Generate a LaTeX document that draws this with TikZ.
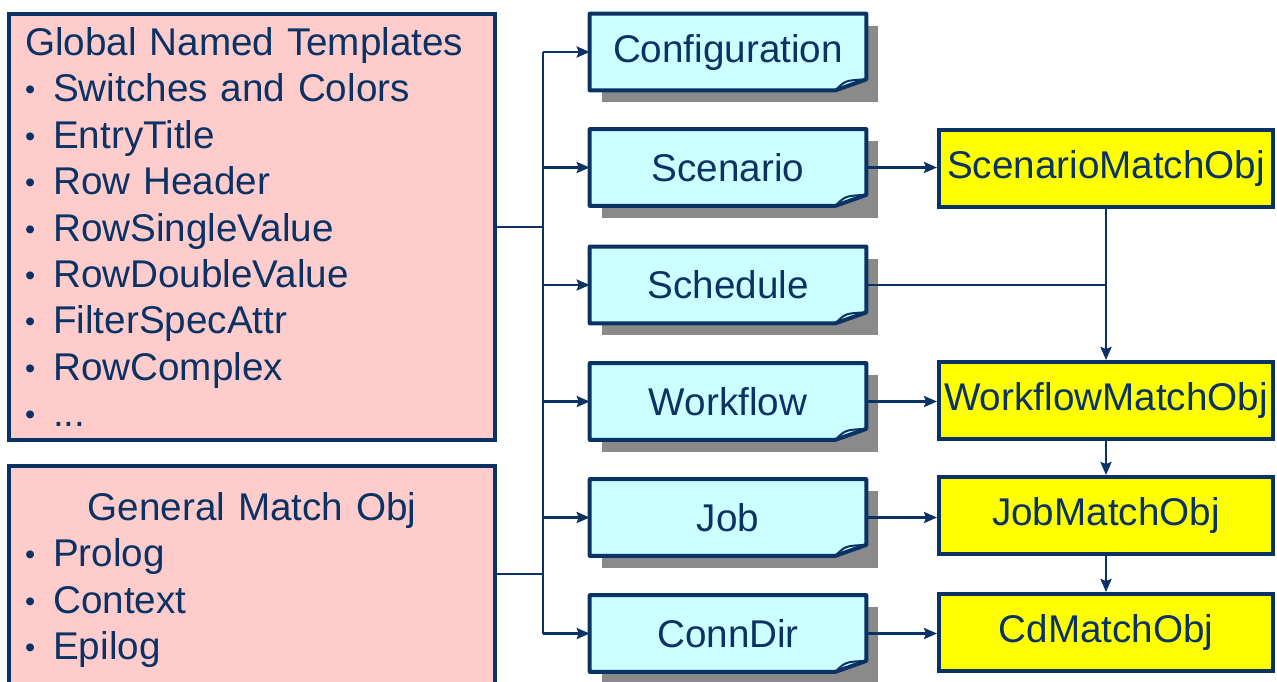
\documentclass[tikz,border=0pt]{standalone}
\usepackage{fontspec}
\setmainfont{Liberation Sans}
\usetikzlibrary{arrows.meta,backgrounds}
\definecolor{navy}{HTML}{0B3264}
\definecolor{pagecyan}{HTML}{CCFFFF}
\definecolor{notepink}{HTML}{FFCCCC}
\definecolor{objyellow}{HTML}{FFFF00}
\definecolor{shadowgray}{HTML}{8A8A8A}
\newcommand{\itembul}{\raisebox{0.04cm}{\scalebox{0.75}{\textbullet}}\hspace{0.36cm}}
\tikzset{
  bigfont/.style={font=\fontsize{22}{26.4}\selectfont},
  notebox/.style={bigfont,draw=navy,fill=notepink,line width=0.08cm,text=navy,
    align=left,text width=9.08cm,inner xsep=0.32cm,inner ysep=0pt},
  pagebox/.style={bigfont,text=navy,minimum width=5.52cm,minimum height=1.52cm,inner sep=0pt},
  objbox/.style={bigfont,draw=navy,fill=objyellow,line width=0.08cm,text=navy,
    minimum width=6.68cm,minimum height=1.54cm,inner sep=0pt},
  link/.style={draw=navy,line width=0.05cm},
}
\begin{document}
\begin{tikzpicture}[x=0.02cm,y=-0.02cm,>={Stealth[length=0.26cm,width=0.22cm,inset=0.04cm]}]
\useasboundingbox (0,0) rectangle (1277,681);

% left side
\node[notebox,minimum height=8.54cm] (glob) at (252,227) {Global Named Templates\\
  \itembul Switches and Colors\\ \itembul EntryTitle\\ \itembul Row Header\\
  \itembul RowSingleValue\\ \itembul RowDoubleValue\\ \itembul FilterSpecAttr\\
  \itembul RowComplex\\ \itembul ...};
\node[notebox,minimum height=4.56cm] (gen) at (252,580) {{\centering General Match Obj\par}
  \itembul Prolog\\ \itembul Context\\ \itembul Epilog};

% middle column
\node[pagebox] (conf) at (728,52) {Configuration};
\node[pagebox] (scen) at (728,167.5) {Scenario};
\node[pagebox] (sched) at (728,285) {Schedule};
\node[pagebox] (work) at (728,401.5) {Workflow};
\node[pagebox] (job) at (728,517.5) {Job};
\node[pagebox] (conn) at (728,633.5) {ConnDir};

\begin{scope}[on background layer]
\foreach \n in {conf,scen,sched,work,job,conn}{
  \fill[shadowgray] ([shift={(0.24cm,-0.24cm)}]\n.south west) rectangle ([shift={(0.24cm,-0.24cm)}]\n.north east);
  \filldraw[draw=navy,fill=pagecyan,line width=0.08cm,line join=round] (\n.north west) -- (\n.north east)
    -- ([yshift=0.22cm]\n.south east) -- ([xshift=-0.62cm]\n.south east) -- (\n.south west) -- cycle;
  \draw[navy,line width=0.04cm] ([xshift=-0.62cm]\n.south east)
    .. controls ([xshift=-0.42cm,yshift=0.2cm]\n.south east) .. ([yshift=0.22cm]\n.south east);
}
\end{scope}

% right column
\node[objbox] (smo) at (1106,168.5) {ScenarioMatchObj};
\node[objbox] (wmo) at (1106,400.5) {WorkflowMatchObj};
\node[objbox] (jmo) at (1106,515.5) {JobMatchObj};
\node[objbox] (cmo) at (1106,632.5) {CdMatchObj};

% connectors
\coordinate (bus) at (543,0);
\draw[link] (glob.east) -- (glob.east -| bus);
\draw[link] ([yshift=0.12cm]gen.east) -- ([yshift=0.12cm]gen.east -| bus);
\draw[link] (conf.west -| bus) -- (conn.west -| bus);
\foreach \n in {conf,scen,sched,work,job,conn}
  \draw[link,->] (\n.west -| bus) -- (\n.west);

\draw[link,->] (scen.east) -- (scen.east -| smo.west);
\draw[link,->] (work.east) -- (work.east -| wmo.west);
\draw[link,->] (job.east) -- (job.east -| jmo.west);
\draw[link,->] (conn.east) -- (conn.east -| cmo.west);
\draw[link] (sched.east) -- (sched.east -| smo.south);
\draw[link,->] (smo) -- (wmo);
\draw[link,->] (wmo) -- (jmo);
\draw[link,->] (jmo) -- (cmo);
\end{tikzpicture}
\end{document}
